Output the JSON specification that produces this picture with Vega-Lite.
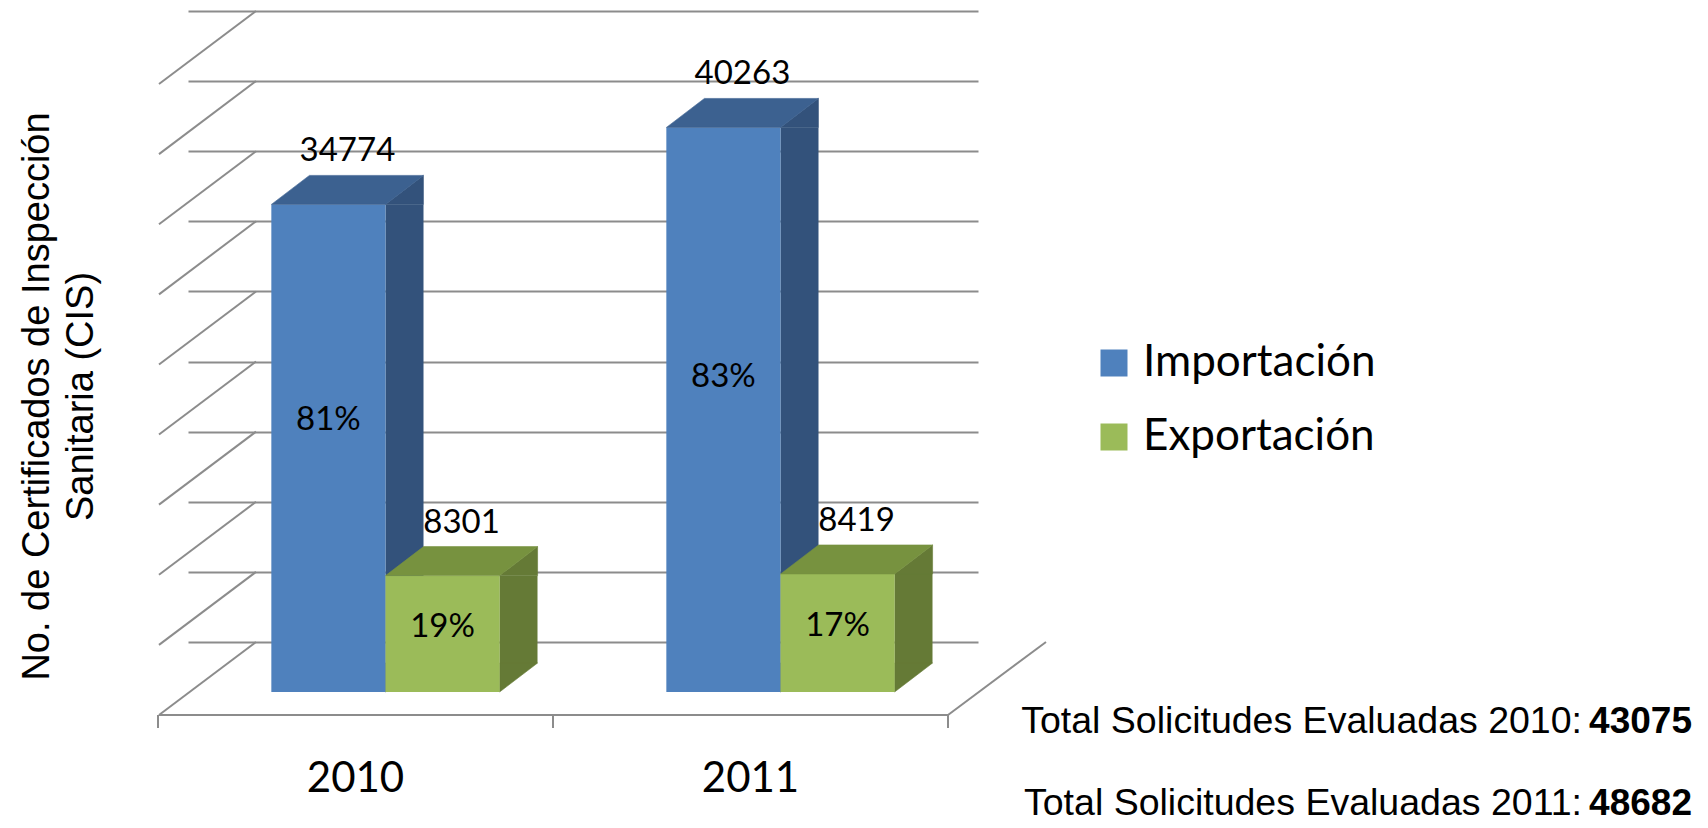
{
  "$schema": "https://vega.github.io/schema/vega-lite/v6.json",
  "width": 790,
  "height": 631,
  "autosize": {"type": "none"},
  "padding": {"left": 256, "top": 11, "right": 662, "bottom": 186},
  "background": "white",
  "config": {
    "view": {"stroke": null},
    "axisX": {"disable": true},
    "axisY": {"domain": false, "ticks": false, "labels": false, "grid": true, "gridColor": "#8c8c8c", "gridWidth": 2}
  },
  "datasets": {
    "bars": [
      {"year": "2010", "series": "Importación", "value": 34774, "pct": "81%"},
      {"year": "2010", "series": "Exportación", "value": 8301, "pct": "19%"},
      {"year": "2011", "series": "Importación", "value": 40263, "pct": "83%"},
      {"year": "2011", "series": "Exportación", "value": 8419, "pct": "17%"}
    ],
    "years": [{"year": "2010"}, {"year": "2011"}],
    "levels": [
      {"v": 0}, {"v": 5000}, {"v": 10000}, {"v": 15000}, {"v": 20000},
      {"v": 25000}, {"v": 30000}, {"v": 35000}, {"v": 40000}, {"v": 45000}
    ],
    "totals": [
      {"year": "2010", "label": "Total Solicitudes Evaluadas 2010:", "total": "43075"},
      {"year": "2011", "label": "Total Solicitudes Evaluadas 2011:", "total": "48682"}
    ]
  },
  "layer": [
    {
      "data": {"name": "levels"},
      "mark": {"type": "rule", "color": "#8c8c8c", "strokeWidth": 2, "xOffset": 68, "x2Offset": -29, "y2Offset": 73},
      "encoding": {
        "x": {"datum": "2010", "type": "nominal", "bandPosition": 0, "scale": {"domain": ["2010", "2011"], "paddingInner": 0, "paddingOuter": 0, "range": [-68, 722]}, "axis": null},
        "x2": {"datum": "2010", "bandPosition": 0},
        "y": {"field": "v", "type": "quantitative", "scale": {"domain": [0, 45000], "nice": false},
              "axis": {"values": [0, 5000, 10000, 15000, 20000, 25000, 30000, 35000, 40000, 45000],
                       "title": ["No. de Certificados de Inspección", "Sanitaria (CIS)"],
                       "titleFont": "Liberation Sans", "titleFontSize": 38, "titleFontWeight": "normal", "titleColor": "black",
                       "titleLineHeight": 44, "titleAngle": -90, "titleAlign": "center", "titleBaseline": "bottom", "titleX": -200, "titleY": 385}},
        "y2": {"field": "v"}
      }
    },
    {
      "data": {"name": "levels"},
      "transform": [{"filter": "datum.v === 0"}],
      "mark": {"type": "rule", "color": "#8c8c8c", "strokeWidth": 2, "xOffset": -29, "x2Offset": -30, "yOffset": 73},
      "encoding": {
        "x": {"datum": "2010", "type": "nominal", "bandPosition": 0},
        "x2": {"datum": "2011", "bandPosition": 1},
        "y": {"field": "v", "type": "quantitative", "scale": {"domain": [0, 45000], "nice": false}}
      }
    },
    {
      "data": {"name": "levels"},
      "transform": [{"filter": "datum.v === 0"}],
      "mark": {"type": "rule", "color": "#8c8c8c", "strokeWidth": 2, "xOffset": 68, "x2Offset": -30, "y2Offset": 73},
      "encoding": {
        "x": {"datum": "2011", "type": "nominal", "bandPosition": 1},
        "x2": {"datum": "2011", "bandPosition": 1},
        "y": {"field": "v", "type": "quantitative", "scale": {"domain": [0, 45000], "nice": false}},
        "y2": {"field": "v"}
      }
    },
    {
      "data": {"name": "years"},
      "mark": {"type": "rule", "color": "#8c8c8c", "strokeWidth": 2, "xOffset": -30, "yOffset": 73, "y2Offset": 86},
      "encoding": {
        "x": {"field": "year", "type": "nominal", "bandPosition": 0},
        "y": {"datum": 0, "type": "quantitative", "scale": {"domain": [0, 45000], "nice": false}},
        "y2": {"datum": 0}
      }
    },
    {
      "data": {"name": "years"},
      "transform": [{"filter": "datum.year === '2011'"}],
      "mark": {"type": "rule", "color": "#8c8c8c", "strokeWidth": 2, "xOffset": -30, "yOffset": 73, "y2Offset": 86},
      "encoding": {
        "x": {"field": "year", "type": "nominal", "bandPosition": 1},
        "y": {"datum": 0, "type": "quantitative", "scale": {"domain": [0, 45000], "nice": false}},
        "y2": {"datum": 0}
      }
    },
    {
      "data": {"name": "years"},
      "mark": {"type": "text", "font": "Lato", "fontSize": 42, "baseline": "alphabetic", "align": "center", "dx": -30, "dy": 150, "color": "black"},
      "encoding": {
        "x": {"field": "year", "type": "nominal"},
        "y": {"datum": 0, "type": "quantitative", "scale": {"domain": [0, 45000], "nice": false}},
        "text": {"field": "year", "type": "nominal"}
      }
    },
    {
      "data": {"name": "bars"},
      "transform": [{"filter": "datum.series === 'Importación'"}],
      "mark": {"type": "rule", "strokeWidth": 38, "strokeCap": "butt", "color": "#33527B", "xOffset": 19, "yOffset": 50, "y2Offset": 21},
      "encoding": {
        "x": {"field": "year", "type": "nominal"},
        "y": {"field": "value", "type": "quantitative", "scale": {"domain": [0, 45000], "nice": false}},
        "y2": {"datum": 0}
      }
    },
    {
      "data": {"name": "bars"},
      "transform": [{"filter": "datum.series === 'Exportación'"}],
      "mark": {"type": "rule", "strokeWidth": 38, "strokeCap": "butt", "color": "#657A36", "xOffset": 133, "yOffset": 50, "y2Offset": 21},
      "encoding": {
        "x": {"field": "year", "type": "nominal"},
        "y": {"field": "value", "type": "quantitative", "scale": {"domain": [0, 45000], "nice": false}},
        "y2": {"datum": 0}
      }
    },
    {
      "data": {"name": "bars"},
      "mark": {"type": "point", "shape": "M57 50L95 21L95 50Z", "size": 4, "filled": true, "opacity": 1, "strokeWidth": 0.6},
      "encoding": {
        "x": {"field": "year", "type": "nominal"},
        "xOffset": {"field": "series", "type": "nominal", "scale": {"domain": ["Importación", "Exportación"], "paddingInner": 0, "paddingOuter": 0.73}},
        "y": {"field": "value", "type": "quantitative", "scale": {"domain": [0, 45000], "nice": false}},
        "fill": {"condition": {"test": "datum.series === 'Importación'", "value": "#33527B"}, "value": "#657A36"},
        "stroke": {"condition": {"test": "datum.series === 'Importación'", "value": "#33527B"}, "value": "#657A36"}
      }
    },
    {
      "data": {"name": "bars"},
      "mark": {"type": "point", "shape": "M57 21L57 50L95 21Z", "size": 4, "filled": true, "opacity": 1, "strokeWidth": 0.6},
      "encoding": {
        "x": {"field": "year", "type": "nominal"},
        "xOffset": {"field": "series", "type": "nominal", "scale": {"domain": ["Importación", "Exportación"], "paddingInner": 0, "paddingOuter": 0.73}},
        "y": {"datum": 0, "type": "quantitative", "scale": {"domain": [0, 45000], "nice": false}},
        "fill": {"condition": {"test": "datum.series === 'Importación'", "value": "#33527B"}, "value": "#657A36"},
        "stroke": {"condition": {"test": "datum.series === 'Importación'", "value": "#33527B"}, "value": "#657A36"}
      }
    },
    {
      "data": {"name": "bars"},
      "mark": {"type": "bar", "yOffset": 50, "y2Offset": 50},
      "encoding": {
        "x": {"field": "year", "type": "nominal"},
        "xOffset": {"field": "series", "type": "nominal", "scale": {"domain": ["Importación", "Exportación"], "paddingInner": 0, "paddingOuter": 0.73}},
        "y": {"field": "value", "type": "quantitative", "scale": {"domain": [0, 45000], "nice": false}},
        "color": {"field": "series", "type": "nominal",
                  "scale": {"domain": ["Importación", "Exportación"], "range": ["#4F81BD", "#9BBB59"]},
                  "legend": {"orient": "none", "legendX": 836, "legendY": 330, "title": null, "symbolType": "square", "symbolSize": 729, "symbolStrokeWidth": 0, "labelFont": "Lato", "labelFontSize": 44, "labelColor": "black", "labelOffset": 7, "rowPadding": 30, "padding": 0, "labelLimit": 400}}
      }
    },
    {
      "data": {"name": "bars"},
      "mark": {"type": "point", "shape": "M-57 50L57 50L95 21L-19 21Z", "size": 4, "filled": true, "opacity": 1, "strokeWidth": 0.6},
      "encoding": {
        "x": {"field": "year", "type": "nominal"},
        "xOffset": {"field": "series", "type": "nominal", "scale": {"domain": ["Importación", "Exportación"], "paddingInner": 0, "paddingOuter": 0.73}},
        "y": {"field": "value", "type": "quantitative", "scale": {"domain": [0, 45000], "nice": false}},
        "fill": {"condition": {"test": "datum.series === 'Importación'", "value": "#3C6190"}, "value": "#77923F"},
        "stroke": {"condition": {"test": "datum.series === 'Importación'", "value": "#3C6190"}, "value": "#77923F"}
      }
    },
    {
      "data": {"name": "bars"},
      "mark": {"type": "text", "font": "Lato", "fontSize": 33, "baseline": "alphabetic", "align": "center", "dx": 19, "dy": 7, "color": "black"},
      "encoding": {
        "x": {"field": "year", "type": "nominal"},
        "xOffset": {"field": "series", "type": "nominal", "scale": {"domain": ["Importación", "Exportación"], "paddingInner": 0, "paddingOuter": 0.73}},
        "y": {"field": "value", "type": "quantitative", "scale": {"domain": [0, 45000], "nice": false}},
        "text": {"field": "value", "type": "quantitative", "format": "d"}
      }
    },
    {
      "data": {"name": "bars"},
      "mark": {"type": "text", "font": "Lato", "fontSize": 33, "baseline": "middle", "align": "center", "dx": 0, "dy": 50, "color": "black"},
      "encoding": {
        "x": {"field": "year", "type": "nominal"},
        "xOffset": {"field": "series", "type": "nominal", "scale": {"domain": ["Importación", "Exportación"], "paddingInner": 0, "paddingOuter": 0.73}},
        "y": {"field": "value", "type": "quantitative", "stack": "zero", "bandPosition": 0.558, "scale": {"domain": [0, 45000], "nice": false}},
        "text": {"field": "pct", "type": "nominal"}
      }
    },
    {
      "data": {"name": "totals"},
      "transform": [{"filter": "datum.year === '2010'"}],
      "mark": {"type": "text", "font": "Liberation Sans", "fontSize": 37.5, "align": "right", "baseline": "alphabetic", "dx": 604, "dy": 91, "color": "black"},
      "encoding": {
        "x": {"datum": "2011", "type": "nominal", "bandPosition": 1},
        "y": {"datum": 0, "type": "quantitative"},
        "text": {"field": "label", "type": "nominal"}
      }
    },
    {
      "data": {"name": "totals"},
      "transform": [{"filter": "datum.year === '2010'"}],
      "mark": {"type": "text", "font": "Liberation Sans", "fontSize": 37, "fontWeight": "bold", "align": "right", "baseline": "alphabetic", "dx": 714, "dy": 91, "color": "black"},
      "encoding": {
        "x": {"datum": "2011", "type": "nominal", "bandPosition": 1},
        "y": {"datum": 0, "type": "quantitative"},
        "text": {"field": "total", "type": "nominal"}
      }
    },
    {
      "data": {"name": "totals"},
      "transform": [{"filter": "datum.year === '2011'"}],
      "mark": {"type": "text", "font": "Liberation Sans", "fontSize": 37.5, "align": "right", "baseline": "alphabetic", "dx": 604, "dy": 173, "color": "black"},
      "encoding": {
        "x": {"datum": "2011", "type": "nominal", "bandPosition": 1},
        "y": {"datum": 0, "type": "quantitative"},
        "text": {"field": "label", "type": "nominal"}
      }
    },
    {
      "data": {"name": "totals"},
      "transform": [{"filter": "datum.year === '2011'"}],
      "mark": {"type": "text", "font": "Liberation Sans", "fontSize": 37, "fontWeight": "bold", "align": "right", "baseline": "alphabetic", "dx": 714, "dy": 173, "color": "black"},
      "encoding": {
        "x": {"datum": "2011", "type": "nominal", "bandPosition": 1},
        "y": {"datum": 0, "type": "quantitative"},
        "text": {"field": "total", "type": "nominal"}
      }
    }
  ]
}
